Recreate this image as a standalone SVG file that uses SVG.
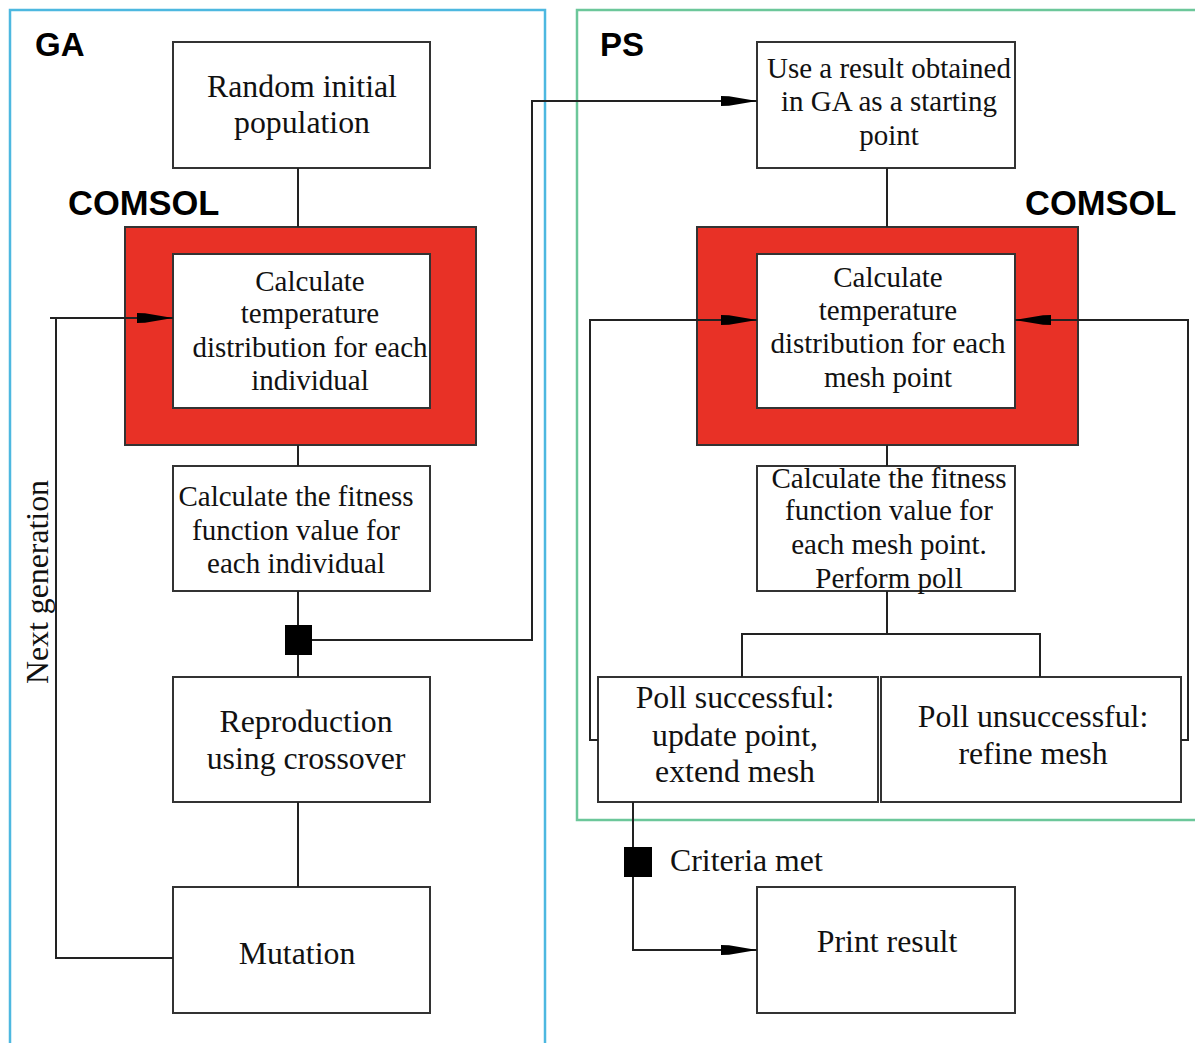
<svg xmlns="http://www.w3.org/2000/svg" width="1195" height="1043" viewBox="0 0 1195 1043">
<style>
.box{fill:#fff;stroke:#333;stroke-width:2}
.red{fill:#e83126;stroke:#333;stroke-width:2}
.t{font-family:"Liberation Serif","Times New Roman",serif;font-size:29px;fill:#111;text-anchor:middle}
.b{font-size:31.8px}
.h{font-family:"Liberation Sans",Arial,sans-serif;font-size:33px;font-weight:bold;fill:#000}
.c{font-size:34.5px}
.ln{fill:none;stroke:#222;stroke-width:2}
</style>
<defs>
<marker id="arr" markerUnits="userSpaceOnUse" markerWidth="38" markerHeight="14" refX="36" refY="7" orient="auto">
<path d="M0,2 L8,2.3 L36,7 L8,11.7 L0,12 Z" fill="#000"/>
</marker>
</defs>
<rect x="0" y="0" width="1195" height="1043" fill="#fff"/>
<g id="frame-ga">
<rect x="10" y="10" width="535" height="1040" fill="none" stroke="#4db8e0" stroke-width="2.5"/>
<text class="h" x="35" y="56">GA</text>
</g>
<g id="frame-ps">
<rect x="577" y="10" width="630" height="810" fill="none" stroke="#6cc79a" stroke-width="2.5"/>
<text class="h" x="600" y="56">PS</text>
</g>
<g id="n-random">
<rect class="box" x="173" y="42" width="257" height="126"/>
<text class="t b" x="302" y="97">Random initial</text>
<text class="t b" x="302" y="133">population</text>
</g>
<g id="n-comsol-ga">
<text class="h c" x="68" y="215">COMSOL</text>
<rect class="red" x="125" y="227" width="351" height="218"/>
<rect class="box" x="173" y="254" width="257" height="154"/>
<text class="t" x="310" y="291">Calculate</text>
<text class="t" x="310" y="323">temperature</text>
<text class="t" x="310" y="357">distribution for each</text>
<text class="t" x="310" y="390">individual</text>
</g>
<g id="n-fitness-ga">
<rect class="box" x="173" y="466" width="257" height="125"/>
<text class="t" x="296" y="506">Calculate the fitness</text>
<text class="t" x="296" y="540">function value for</text>
<text class="t" x="296" y="573">each individual</text>
</g>
<g id="n-reproduction">
<rect class="box" x="173" y="677" width="257" height="125"/>
<text class="t b" x="306" y="732">Reproduction</text>
<text class="t b" x="306" y="769">using crossover</text>
</g>
<g id="n-mutation">
<rect class="box" x="173" y="887" width="257" height="126"/>
<text class="t b" x="297" y="964">Mutation</text>
</g>
<g id="n-start">
<rect class="box" x="757" y="42" width="258" height="126"/>
<text class="t" x="889" y="78">Use a result obtained</text>
<text class="t" x="889" y="111">in GA as a starting</text>
<text class="t" x="889" y="145">point</text>
</g>
<g id="n-comsol-ps">
<text class="h c" x="1025" y="215">COMSOL</text>
<rect class="red" x="697" y="227" width="381" height="218"/>
<rect class="box" x="757" y="254" width="258" height="154"/>
<text class="t" x="888" y="287">Calculate</text>
<text class="t" x="888" y="320">temperature</text>
<text class="t" x="888" y="353">distribution for each</text>
<text class="t" x="888" y="387">mesh point</text>
</g>
<g id="n-fitness-ps">
<rect class="box" x="757" y="466" width="258" height="125"/>
<text class="t" x="889" y="488">Calculate the fitness</text>
<text class="t" x="889" y="520">function value for</text>
<text class="t" x="889" y="554">each mesh point.</text>
<text class="t" x="889" y="588">Perform poll</text>
</g>
<g id="n-poll-ok">
<rect class="box" x="598" y="677" width="280" height="125"/>
<text class="t b" x="735" y="708">Poll successful:</text>
<text class="t b" x="735" y="746">update point,</text>
<text class="t b" x="735" y="782">extend mesh</text>
</g>
<g id="n-poll-fail">
<rect class="box" x="881" y="677" width="300" height="125"/>
<text class="t b" x="1033" y="727">Poll unsuccessful:</text>
<text class="t b" x="1033" y="764">refine mesh</text>
</g>
<g id="n-print">
<rect class="box" x="757" y="887" width="258" height="126"/>
<text class="t b" x="887" y="952">Print result</text>
</g>
<g id="connectors">
<line class="ln" x1="298" y1="168" x2="298" y2="227"/>
<line class="ln" x1="298" y1="445" x2="298" y2="466"/>
<line class="ln" x1="298" y1="591" x2="298" y2="677"/>
<line class="ln" x1="298" y1="802" x2="298" y2="887"/>
<polyline class="ln" points="173,958 56,958 56,318 50,318"/>
<line class="ln" x1="56" y1="318" x2="173" y2="318" marker-end="url(#arr)"/>
<polyline class="ln" points="312,640 532,640 532,101 757,101" marker-end="url(#arr)"/>
<line class="ln" x1="887" y1="168" x2="887" y2="227"/>
<line class="ln" x1="887" y1="445" x2="887" y2="466"/>
<line class="ln" x1="887" y1="591" x2="887" y2="634"/>
<polyline class="ln" points="742,677 742,634 1040,634 1040,677"/>
<polyline class="ln" points="598,740 590,740 590,320 757,320" marker-end="url(#arr)"/>
<polyline class="ln" points="1181,740 1188,740 1188,320 1015,320" marker-end="url(#arr)"/>
<polyline class="ln" points="633,802 633,950 757,950" marker-end="url(#arr)"/>
<rect x="285" y="625" width="27" height="30" fill="#000"/>
<rect x="624" y="847" width="28" height="30" fill="#000"/>
<text class="t b" x="37" y="582" transform="rotate(-90 37 582)" dy="11">Next generation</text>
<text class="t b" x="670" y="871" style="text-anchor:start">Criteria met</text>
</g>
</svg>
